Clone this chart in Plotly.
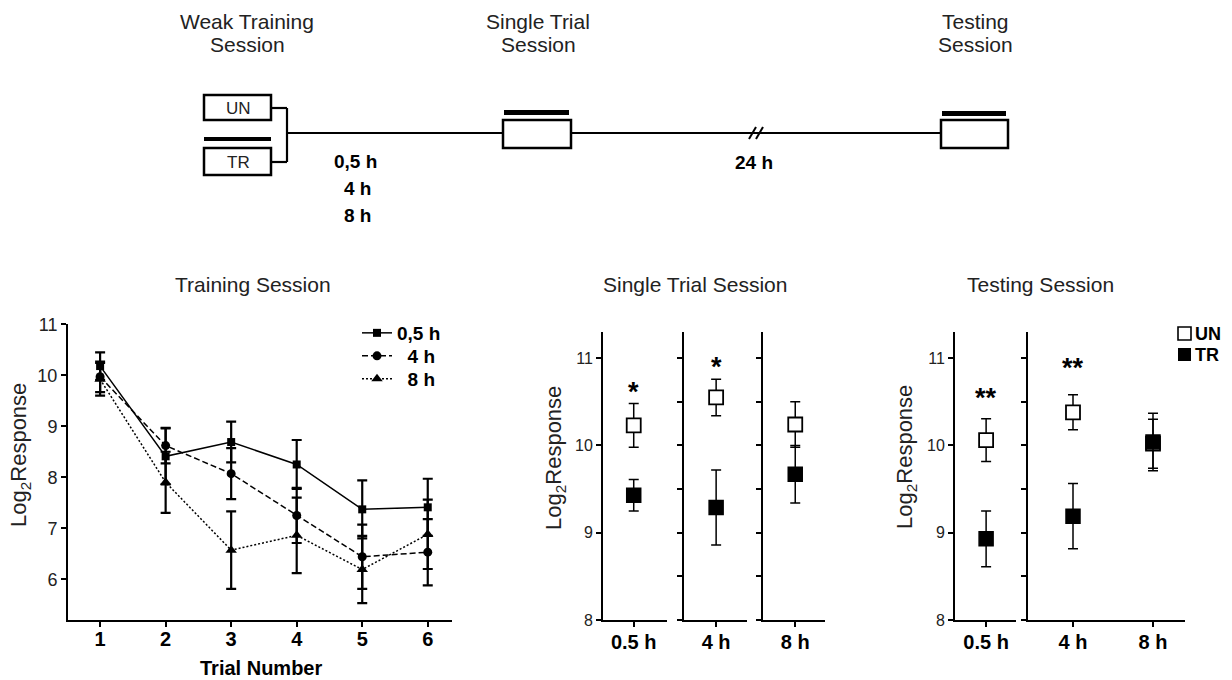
import plotly.graph_objects as go

# ---------------- data ----------------
trials = [1, 2, 3, 4, 5, 6]
train_names = ["0,5 h", "4 h", "8 h"]
train_05 = [10.18, 8.41, 8.69, 8.25, 7.37, 7.41]
train_05_err = [0.27, 0.55, 0.40, 0.48, 0.57, 0.56]
train_4 = [9.97, 8.62, 8.07, 7.25, 6.44, 6.53]
train_4_err = [0.30, 0.35, 0.50, 0.54, 0.63, 0.65]
train_8 = [9.92, 7.90, 6.57, 6.86, 6.19, 6.88]
train_8_err = [0.32, 0.60, 0.76, 0.74, 0.66, 0.68]

hour_labels = ["0.5 h", "4 h", "8 h"]
single_un = [10.23, 10.55, 10.24]
single_un_err = [0.25, 0.21, 0.26]
single_tr = [9.43, 9.29, 9.67]
single_tr_err = [0.18, 0.43, 0.33]
single_sig = ["*", "*", ""]
single_sig_y = [10.69, 10.98, None]

test_un = [10.06, 10.38, 10.02]
test_un_err = [0.245, 0.20, 0.28]
test_tr = [8.93, 9.19, 10.04]
test_tr_err = [0.32, 0.375, 0.33]
test_sig = ["**", "**", ""]
test_sig_y = [10.62, 10.97, None]

# ---------------- helpers ----------------
W, H = 1232, 680
FONT = "Liberation Sans, Arial, sans-serif"


def px(x):
    return x / W


def py(y):
    return 1 - y / H


fig = go.Figure()

# ---------------- training panel ----------------
styles = [("square", "solid", 8), ("circle", "6px,3px", 9), ("triangle-up", "2px,2px", 10)]
series = [(train_05, train_05_err), (train_4, train_4_err), (train_8, train_8_err)]
legend_pad = ["", "\u00a0\u00a0", "\u00a0\u00a0"]
legend_ids = ["legend", "legend2", "legend3"]
legend_rows = [333, 356, 379]
for name, (vals, errs), (sym, dash, ms), pad, lid in zip(train_names, series, styles,
                                                          legend_pad, legend_ids):
    fig.add_trace(go.Scatter(
        x=trials, y=vals, mode="lines+markers", name=pad + "<b>" + name + "</b>",
        error_y=dict(type="data", array=errs, color="black", thickness=2.2, width=5),
        line=dict(color="black", width=1.5, dash=dash),
        marker=dict(symbol=sym, size=ms, color="black"),
        xaxis="x", yaxis="y", showlegend=True, legend=lid))

axis_common = dict(showline=True, linecolor="black", linewidth=2, ticks="outside",
                   ticklen=5, tickwidth=1.5, tickcolor="black", showgrid=False,
                   zeroline=False, automargin=False)

layout = dict(
    xaxis=dict(domain=[px(68), px(452)], range=[0.51, 6.37], anchor="y",
               tickvals=trials, ticktext=["<b>%d</b>" % t for t in trials],
               ticklabelstandoff=-5,
               tickfont=dict(size=20, color="black", family=FONT), **axis_common),
    yaxis=dict(domain=[py(620), py(324)], range=[5.2, 11.005], anchor="x",
               tickvals=[6, 7, 8, 9, 10, 11], tickfont=dict(size=18, color="#222", family=FONT),
               **axis_common),
)

# ---------------- single trial + testing panels ----------------
single_panels = [(2, (603, 667), [0], [-0.48, 0.52]),
                 (3, (684, 747), [1], [-0.51, 0.49]),
                 (4, (763, 825), [2], [-0.52, 0.48])]
test_panels = [(5, (955, 1016), [0], [-0.51, 0.49]),
               (6, (1028, 1185), [1, 2], [-0.5625, 1.4])]

annotations = []


def add_group(panels, un, un_err, tr, tr_err, sig, sig_y):
    for n, (ai, (d0, d1), idx, rng) in enumerate(panels):
        xs = list(range(len(idx)))
        xa, ya = "x%d" % ai, "y%d" % ai
        fig.add_trace(go.Scatter(
            x=xs, y=[un[i] for i in idx], mode="markers", showlegend=False,
            error_y=dict(type="data", array=[un_err[i] for i in idx], color="black",
                         thickness=1.5, width=5),
            marker=dict(symbol="square", size=14, color="white",
                        line=dict(color="black", width=1.8)),
            xaxis=xa, yaxis=ya))
        fig.add_trace(go.Scatter(
            x=xs, y=[tr[i] for i in idx], mode="markers", showlegend=False,
            error_y=dict(type="data", array=[tr_err[i] for i in idx], color="black",
                         thickness=1.5, width=5),
            marker=dict(symbol="square", size=14, color="black",
                        line=dict(color="black", width=1.5)),
            xaxis=xa, yaxis=ya))
        first = (n == 0)
        layout["xaxis%d" % ai] = dict(
            domain=[px(d0), px(d1)], range=rng, anchor=ya,
            tickvals=xs, ticktext=["<b>" + hour_labels[i] + "</b>" for i in idx],
            ticklabelstandoff=-2,
            tickfont=dict(size=20, color="black", family=FONT), **axis_common)
        layout["yaxis%d" % ai] = dict(
            domain=[py(620), py(332)], range=[8, 11.3], anchor=xa,
            tickvals=[8, 9, 10, 11] if first else [8, 8.5, 9, 9.5, 10, 10.5, 11],
            showticklabels=first, tickfont=dict(size=16, color="#222", family=FONT),
            **axis_common)
        for j, i in enumerate(idx):
            if sig[i]:
                annotations.append(dict(
                    x=xs[j], y=sig_y[i], xref=xa, yref=ya, text="<b>" + sig[i] + "</b>",
                    showarrow=False, yshift=-7,
                    font=dict(size=27, color="black", family=FONT)))


add_group(single_panels, single_un, single_un_err, single_tr, single_tr_err, single_sig, single_sig_y)
add_group(test_panels, test_un, test_un_err, test_tr, test_tr_err, test_sig, test_sig_y)


# ---------------- text ----------------
def text(x, y, s, size, bold=False, angle=0, color="black", xanchor="center"):
    annotations.append(dict(
        x=px(x), y=py(y), xref="paper", yref="paper", showarrow=False,
        text=("<b>%s</b>" % s) if bold else s, textangle=angle, xanchor=xanchor,
        yanchor="middle", font=dict(size=size, color=color, family=FONT)))


text(253, 284, "Training Session", 21, color="#222")
text(695, 284, "Single Trial Session", 21, color="#222")
text(1040, 284, "Testing Session", 21, color="#222")
text(20, 455, "Log<sub>2</sub>Response", 22, angle=-90, color="#222")
text(555, 458, "Log<sub>2</sub>Response", 22, angle=-90, color="#222")
text(906, 457, "Log<sub>2</sub>Response", 22, angle=-90, color="#222")
text(261, 668, "Trial Number", 20, bold=True)

# schematic texts
text(247, 22, "Weak Training", 21, color="#222")
text(247, 45, "Session", 21, color="#222")
text(538, 22, "Single Trial", 21, color="#222")
text(538, 45, "Session", 21, color="#222")
text(975, 22, "Testing", 21, color="#222")
text(975, 45, "Session", 21, color="#222")
text(238, 108, "UN", 17, color="#222")
text(238, 162, "TR", 17, color="#222")
text(355, 161, "0,5 h", 19, bold=True)
text(357, 188, "4 h", 19, bold=True)
text(357, 215, "8 h", 19, bold=True)
text(754, 162, "24 h", 19, bold=True)

# UN / TR legend
text(1193, 334, "UN", 18, bold=True, xanchor="left")
text(1193, 355, "TR", 18, bold=True, xanchor="left")

# ---------------- schematic shapes ----------------
shapes = []


def rect(x0, y0, x1, y1, fill=None, lw=2.5):
    shapes.append(dict(type="rect", xref="paper", yref="paper",
                       x0=px(x0), x1=px(x1), y0=py(y1), y1=py(y0),
                       line=dict(color="black", width=lw),
                       fillcolor=fill if fill else "rgba(0,0,0,0)"))


def bar(x0, y0, x1, y1):
    shapes.append(dict(type="rect", xref="paper", yref="paper",
                       x0=px(x0), x1=px(x1), y0=py(y1), y1=py(y0),
                       line=dict(width=0), fillcolor="black"))


def seg(x0, y0, x1, y1, lw=2.2):
    shapes.append(dict(type="line", xref="paper", yref="paper",
                       x0=px(x0), x1=px(x1), y0=py(y0), y1=py(y1),
                       line=dict(color="black", width=lw)))


rect(204, 95, 271, 120)
rect(204, 148, 271, 175)
bar(204, 137, 271, 141)
seg(271, 108, 287, 108)
seg(287, 108, 287, 162)
seg(271, 162, 287, 162)
seg(287, 133, 503, 133)
seg(571, 133, 941, 133)
seg(749, 139, 756, 127, 2)
seg(756, 139, 763, 127, 2)
rect(503, 120, 571, 148)
bar(504, 110, 569, 115)
rect(941, 120, 1008, 148)
bar(942, 111, 1006, 116)

# legend glyphs for UN / TR
rect(1178, 327, 1191, 340, lw=1.6)
bar(1178, 348, 1191, 361)


def legend_box(row_y):
    return dict(x=px(357), y=py(row_y), xanchor="left", yanchor="middle",
                bgcolor="rgba(0,0,0,0)", borderwidth=0, tracegroupgap=0,
                font=dict(size=19, color="black", family=FONT))


layout.update(
    width=W, height=H, autosize=False,
    margin=dict(l=0, r=0, t=0, b=0, pad=0, autoexpand=False),
    paper_bgcolor="white", plot_bgcolor="white",
    font=dict(family=FONT, color="black"),
    showlegend=True,
    legend=legend_box(legend_rows[0]),
    legend2=legend_box(legend_rows[1]),
    legend3=legend_box(legend_rows[2]),
    annotations=annotations, shapes=shapes,
)
fig.update_layout(**layout)
fig.write_html(
    "out.html",
    config={"displayModeBar": False, "responsive": False},
    post_script="document.body.style.margin='0px';document.body.style.overflow='hidden';",
)
